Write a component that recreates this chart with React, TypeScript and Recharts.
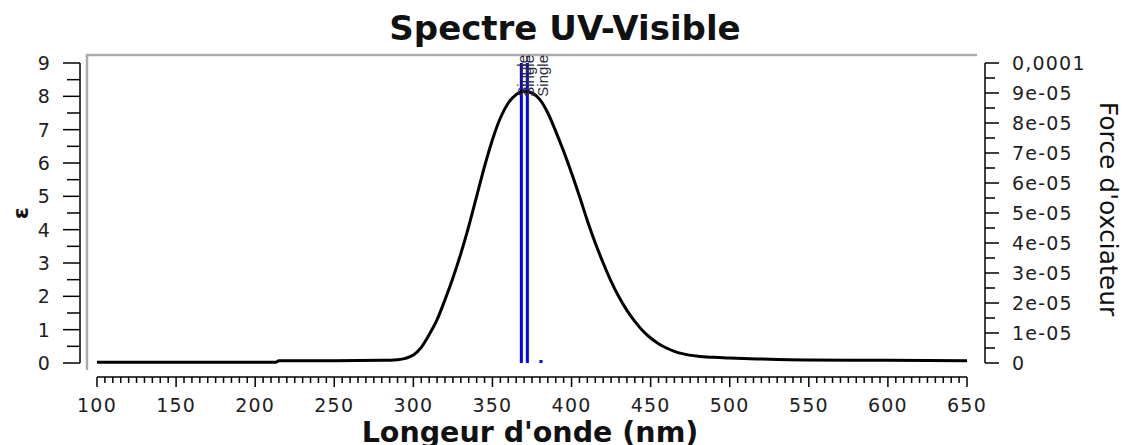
import { ComposedChart, Line, Bar, XAxis, YAxis, LabelList } from "recharts";

// Simulated absorption envelope (wavelength in nm, epsilon)
const wavelengths = [
  100, 150, 200, 213, 215, 250, 280, 290, 295, 300, 305, 310, 315, 320, 325,
  330, 335, 340, 345, 350, 355, 360, 365, 370, 375, 380, 385, 390, 395, 400,
  405, 410, 415, 420, 425, 430, 435, 440, 445, 450, 455, 460, 465, 470, 480,
  490, 500, 520, 550, 600, 650,
];
const epsilon = [
  0.02, 0.02, 0.02, 0.02, 0.07, 0.07, 0.08, 0.1, 0.14, 0.24, 0.47, 0.85, 1.3,
  1.9, 2.55, 3.28, 4.1, 5.0, 5.9, 6.7, 7.35, 7.8, 8.05, 8.15, 8.1, 7.9,
  7.5, 6.95, 6.35, 5.7, 5.0, 4.27, 3.6, 3.0, 2.45, 1.98, 1.58, 1.25, 0.97,
  0.75, 0.58, 0.45, 0.35, 0.28, 0.2, 0.17, 0.15, 0.12, 0.09, 0.08, 0.07,
];

// Excited states: wavelength, oscillator strength, multiplicity
const stickWavelengths = [368.3, 372.1, 380.7];
const stickStrengths = [0.0001, 0.0001, 0.000001];
const stickLabels = ["Single", "Single", "Single"];

const xTickLabels = [100, 150, 200, 250, 300, 350, 400, 450, 500, 550, 600, 650];
const xMinorStep = 5;
const epsTicks = [0, 0.5, 1, 1.5, 2, 2.5, 3, 3.5, 4, 4.5, 5, 5.5, 6, 6.5, 7, 7.5, 8, 8.5, 9];
const fTicks = [
  0, 0.5e-5, 1e-5, 1.5e-5, 2e-5, 2.5e-5, 3e-5, 3.5e-5, 4e-5, 4.5e-5, 5e-5,
  5.5e-5, 6e-5, 6.5e-5, 7e-5, 7.5e-5, 8e-5, 8.5e-5, 9e-5, 9.5e-5, 1e-4,
];
const fTickLabels = [
  "0", "1e-05", "2e-05", "3e-05", "4e-05", "5e-05", "6e-05", "7e-05", "8e-05", "9e-05", "0,0001",
];

type Row = { nm: number; eps?: number; f?: number; label?: string };

const chartData: Row[] = [
  ...wavelengths.map((nm, i) => ({ nm, eps: epsilon[i] })),
  ...stickWavelengths.map((nm, i) => ({ nm, f: stickStrengths[i], label: stickLabels[i] })),
].sort((a, b) => a.nm - b.nm);

const xTicks: number[] = [];
for (let v = xTickLabels[0]; v <= xTickLabels[xTickLabels.length - 1]; v += xMinorStep) xTicks.push(v);

const W = 1125;
const H = 445;
const M = { top: 63, left: 0, right: 0, bottom: 0 };
const LEFT_W = 97;
const RIGHT_W = 158;
const X_H = 82;
const PLOT = { x: M.left + LEFT_W, y: M.top, w: W - LEFT_W - RIGHT_W, h: H - M.top - X_H };

const FONT = "'DejaVu Sans', Verdana, sans-serif";
const tickText = { fontFamily: FONT, fontSize: 19, letterSpacing: 1.2, fill: "#1e1e1e" };

function XTick(props: any) {
  const { x, y, payload } = props;
  const major = xTickLabels.includes(payload.value);
  return (
    <g>
      <line x1={x} x2={x} y1={y + 14} y2={y + 14 + (major ? 10 : 6)} stroke="#000" strokeWidth={1.5} />
      {major && (
        <text x={x} y={y + 49} textAnchor="middle" {...tickText}>
          {payload.value}
        </text>
      )}
    </g>
  );
}

function EpsTick(props: any) {
  const { x, y, payload } = props;
  const major = Number.isInteger(payload.value);
  const ax = x - 17;
  return (
    <g>
      <line x1={ax - (major ? 17 : 13)} x2={ax} y1={y} y2={y} stroke="#000" strokeWidth={1.5} />
      {major && (
        <text x={ax - 29} y={y + 7} textAnchor="end" {...tickText}>
          {payload.value}
        </text>
      )}
    </g>
  );
}

function FTick(props: any) {
  const { x, y, index } = props;
  const major = index % 2 === 0;
  const ax = x + 18;
  return (
    <g>
      <line x1={ax} x2={ax + (major ? 14 : 10)} y1={y} y2={y} stroke="#000" strokeWidth={1.5} />
      {major && (
        <text x={ax + 27} y={y + 7} textAnchor="start" {...tickText}>
          {fTickLabels[index / 2]}
        </text>
      )}
    </g>
  );
}

// fixed 3px stick centred on the transition wavelength
function Stick(props: any) {
  const { x, y, width, height } = props;
  if (!height || height <= 0) return null;
  return <rect x={x + width / 2 - 1.5} y={y} width={3} height={height} fill="#0000ff" />;
}

function StickLabel(props: any) {
  const { value, viewBox } = props;
  if (!value || !viewBox) return null;
  const lx = viewBox.x + viewBox.width / 2 + 7;
  const ly = PLOT.y - 8;
  return (
    <text
      x={lx}
      y={ly}
      transform={`rotate(-90 ${lx} ${ly})`}
      textAnchor="end"
      fontFamily="'Liberation Sans', Arial, sans-serif"
      fontSize={15}
      fill="#2a2a3a"
    >
      {value}
    </text>
  );
}

export default function App() {
  return (
    <div style={{ position: "absolute", left: 0, top: 0, background: "#fff" }}>
      <ComposedChart width={W} height={H} data={chartData} margin={M}>
        <path
          d={`M ${PLOT.x - 10} ${PLOT.y + PLOT.h + 7} L ${PLOT.x - 10} ${PLOT.y - 8} L ${PLOT.x + PLOT.w + 10} ${PLOT.y - 8}`}
          fill="none"
          stroke="#ababab"
          strokeWidth={2.5}
        />
        <text x={565} y={40} textAnchor="middle" fontFamily={FONT} fontWeight="bold" fontSize={34} fill="#111">
          Spectre UV-Visible
        </text>
        <text x={530} y={442} textAnchor="middle" fontFamily={FONT} fontWeight="bold" fontSize={28.5} fill="#111">
          Longeur d'onde (nm)
        </text>
        <text
          x={20}
          y={PLOT.y + PLOT.h / 2}
          transform={`rotate(-90 20 ${PLOT.y + PLOT.h / 2})`}
          textAnchor="middle"
          dominantBaseline="central"
          fontFamily={FONT}
          fontWeight="bold"
          fontSize={22}
          fill="#111"
        >
          ε
        </text>
        <text
          x={1108}
          y={209}
          transform="rotate(90 1108 209)"
          textAnchor="middle"
          dominantBaseline="central"
          fontFamily={FONT}
          fontSize={25}
          fill="#111"
        >
          Force d'oxciateur
        </text>

        <XAxis
          dataKey="nm"
          type="number"
          domain={[100, 650]}
          ticks={xTicks}
          interval={0}
          allowDataOverflow
          height={X_H}
          tickSize={0}
          tickMargin={0}
          tickLine={false}
          axisLine={{ stroke: "#000", strokeWidth: 1.5, transform: "translate(0 14)" }}
          tick={<XTick />}
        />
        <YAxis
          yAxisId="eps"
          type="number"
          domain={[0, 9]}
          ticks={epsTicks}
          interval={0}
          width={LEFT_W}
          tickSize={0}
          tickMargin={0}
          tickLine={false}
          axisLine={{ stroke: "#000", strokeWidth: 1.5, transform: "translate(-17 0)" }}
          tick={<EpsTick />}
        />
        <YAxis
          yAxisId="f"
          orientation="right"
          type="number"
          domain={[0, 0.0001]}
          ticks={fTicks}
          interval={0}
          width={RIGHT_W}
          tickSize={0}
          tickMargin={0}
          tickLine={false}
          axisLine={{ stroke: "#000", strokeWidth: 1.5, transform: "translate(18 0)" }}
          tick={<FTick />}
        />

        <Line
          yAxisId="eps"
          dataKey="eps"
          type="monotone"
          stroke="#000"
          strokeWidth={3}
          dot={false}
          connectNulls
          isAnimationActive={false}
        />
        <Bar yAxisId="f" dataKey="f" barSize={3} fill="#0000ff" shape={<Stick />} isAnimationActive={false}>
          <LabelList dataKey="label" content={<StickLabel />} />
        </Bar>
      </ComposedChart>
    </div>
  );
}
